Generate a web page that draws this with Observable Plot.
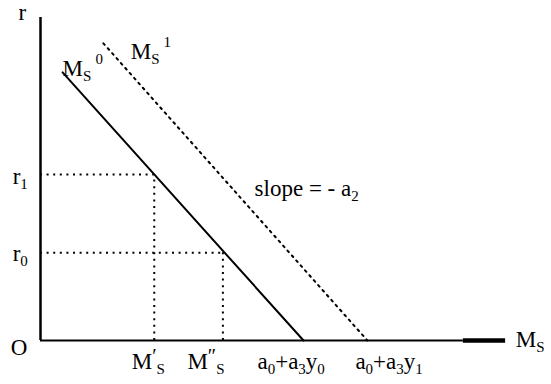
<!DOCTYPE html>
<html>
<head>
<meta charset="utf-8">
<script src="https://cdn.jsdelivr.net/npm/d3@7"></script>
<script src="https://cdn.jsdelivr.net/npm/@observablehq/plot@0.6"></script>
<style>
  html, body { margin: 0; padding: 0; background: #fff; }
  svg text { font-family: "Liberation Serif", "DejaVu Serif", serif; }
</style>
</head>
<body>
<script>
// Money supply schedules in (Ms, r) space: start and end points
const supply0 = [[4.6, 83], [54.8, 0]];   // Ms^0, intercept a0 + a3·y0
const supply1 = [[13.1, 92], [68.1, 0]];  // Ms^1, intercept a0 + a3·y1

const rates = [51.4, 27.2];        // r1, r0
const quantities = [23.7, 38.0];   // M'_S, M''_S

// Axis extents
const yAxisTop = 100;
const xAxisEnd = [88.1, 96.9];     // thin axis end, thick stub end

// Labels: "_" marks a subscript, "^" a superscript, {…} groups characters
const labelText = ["r", "O", "r_1", "r_0", "M_S^0", "M_S^1", "slope = - a_2",
                   "M^′_S", "M^″_S", "a_0+a_3y_0", "a_0+a_3y_1", "M_S"];
const labelX = [-4.6, -6.2, -5.8, -5.8, 4.6, 18.8, 44.6, 19.0, 30.6, 45.2, 65.6, 99.0];
const labelY = [99.1, -4.6, 48.6, 24.5, 82.0, 87.3, 44.6, -8.7, -8.7, -8.7, -8.7, -2.0];

const guides = rates.map((r, i) => ({r, ms: quantities[i]}));
const labels = labelText.map((text, i) => ({text, x: labelX[i], y: labelY[i]}));

const dotted = {stroke: "black", strokeWidth: 2, strokeDasharray: "2,4.6"};

const chart = Plot.plot({
  width: 551,
  height: 384,
  marginLeft: 40,
  marginRight: 31,
  marginTop: 17,
  marginBottom: 44,
  x: {domain: [0, 100], axis: null},
  y: {domain: [0, 100], axis: null},
  style: {background: "white", overflow: "visible", fontFamily: "Liberation Serif"},
  marks: [
    // axes
    Plot.ruleX([0], {y1: 0, y2: yAxisTop, stroke: "black", strokeWidth: 2.5}),
    Plot.ruleY([0], {x1: 0, x2: xAxisEnd[0], stroke: "black", strokeWidth: 2}),
    Plot.ruleY([0], {x1: xAxisEnd[0], x2: xAxisEnd[1], stroke: "black", strokeWidth: 4.5}),
    // guide lines from the rates to the original supply schedule
    Plot.ruleY(guides, {y: "r", x1: 0, x2: "ms", ...dotted}),
    Plot.ruleX(guides, {x: "ms", y1: 0, y2: "r", ...dotted}),
    // supply schedules
    Plot.line(supply1, {x: d => d[0], y: d => d[1], ...dotted}),
    Plot.line(supply0, {x: d => d[0], y: d => d[1], stroke: "black", strokeWidth: 2}),
    // labels
    Plot.text(labels, {
      x: "x", y: "y", text: "text",
      textAnchor: "start", lineAnchor: "bottom",
      fontSize: 23, fill: "black", fontFamily: "Liberation Serif"
    })
  ]
});

document.body.append(chart);

// Turn "_x" / "^x" markup into subscript / superscript tspans
const SCRIPT_SIZE = 15;
const PRIME_SIZE = 20;
const SHIFT = {n: 0, "_": 5, "^": -12};
const PRIME_SHIFT = -6;

function tokenize(src) {
  const tokens = [];
  let i = 0;
  while (i < src.length) {
    let kind = "n";
    if (src[i] === "_" || src[i] === "^") { kind = src[i]; i++; }
    let s;
    if (src[i] === "{") { const j = src.indexOf("}", i); s = src.slice(i + 1, j); i = j + 1; }
    else { s = src[i]; i++; }
    const last = tokens[tokens.length - 1];
    if (kind === "n" && last && last.kind === "n") last.s += s;
    else tokens.push({kind, s});
  }
  return tokens;
}

function typeset(el) {
  const src = el.textContent;
  if (!/[_^]/.test(src)) return;
  el.textContent = "";
  let shift = 0, prev = null;
  for (const tok of tokenize(src)) {
    const t = document.createElementNS("http://www.w3.org/2000/svg", "tspan");
    t.textContent = tok.s;
    const isPrime = tok.kind === "^" && /^[′″]+$/.test(tok.s);
    const target = isPrime ? PRIME_SHIFT : SHIFT[tok.kind];
    if (target !== shift) t.setAttribute("dy", target - shift);
    shift = target;
    if (tok.kind !== "n") t.setAttribute("font-size", isPrime ? PRIME_SIZE : SCRIPT_SIZE);
    // a superscript that follows a subscript gets a little extra room
    if (tok.kind === "^" && prev && prev.kind === "_") t.setAttribute("dx", 4);
    el.appendChild(t);
    prev = {kind: tok.kind, el: t};
  }
}

chart.querySelectorAll("text").forEach(typeset);
</script>
</body>
</html>
